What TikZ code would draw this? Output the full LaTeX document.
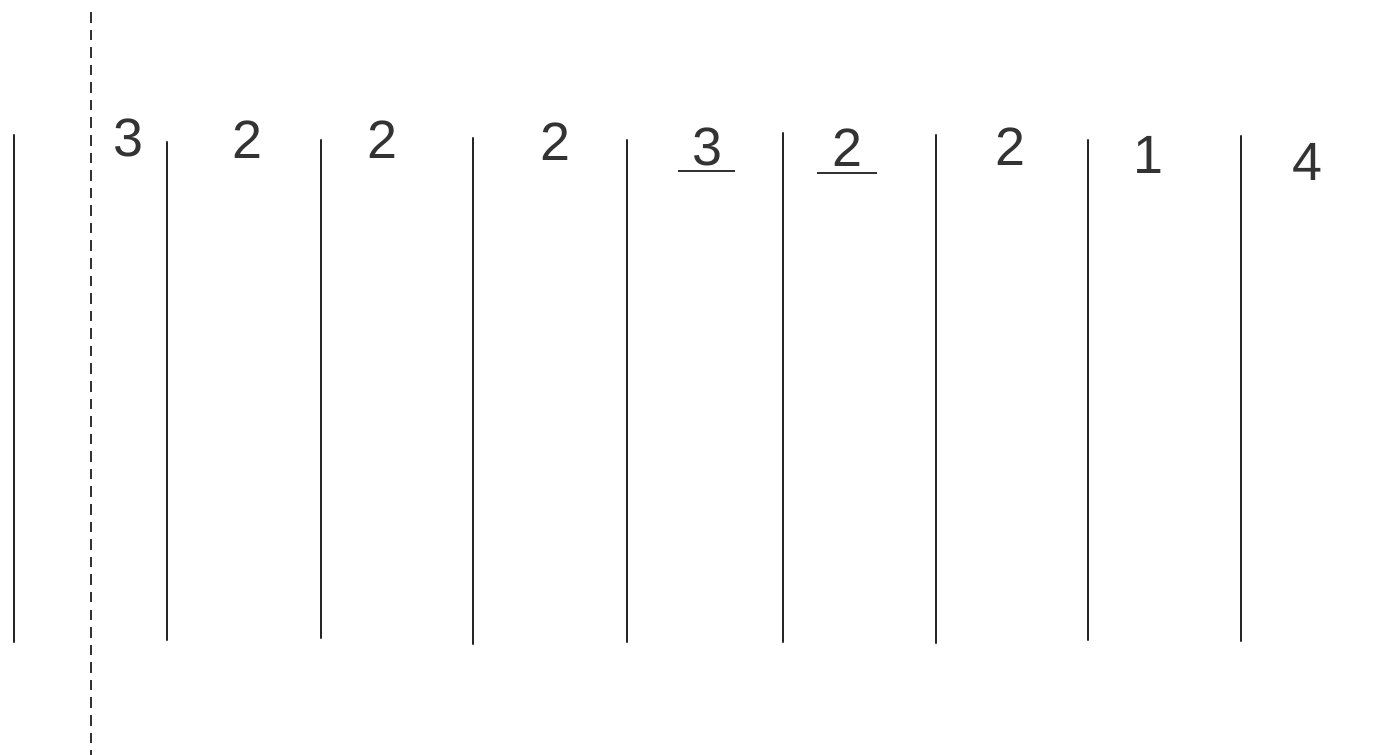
\documentclass[tikz,border=0pt]{standalone}
\usepackage{fontspec}
\setmainfont{Liberation Sans}
\begin{document}
\begin{tikzpicture}[x=0.03cm,y=-0.03cm,
  wall/.style={line width=1.8pt, draw=black!85, line cap=round},
  axis/.style={line width=1.3pt, draw=black!80, dash pattern=on 9pt off 6pt},
  num/.style={font=\fontsize{46}{46}\selectfont, text=black!80, inner sep=0pt},
  uline/.style={line width=1.1pt, draw=black!80}]
\useasboundingbox (0,0) rectangle (1389,755);
% dashed axis
\draw[axis] (91,12) -- (91,755);
% vertical lines
\foreach \x/\t/\b in {14/135/642, 167/142/640, 321/140/638, 473/138/644, 627/140/642, 783/133/642, 936/135/643, 1088/140/640, 1241/136/641}
  \draw[wall] (\x,\t) -- (\x,\b);
% numbers
\node[num] (n1) at (128,138) {3};
\node[num] (n2) at (247,140) {2};
\node[num] (n3) at (382,140) {2};
\node[num] (n4) at (555,142) {2};
\node[num] (n5) at (707,147) {3};
\node[num] (n6) at (847,148) {2};
\node[num] (n7) at (1010,147) {2};
\node[num] (n8) at (1148,155) {1};
\node[num] (n9) at (1307,162) {4};
% underlines
\draw[uline] (678,171) -- (735,171);
\draw[uline] (817,173) -- (877,173);
\end{tikzpicture}
\end{document}
